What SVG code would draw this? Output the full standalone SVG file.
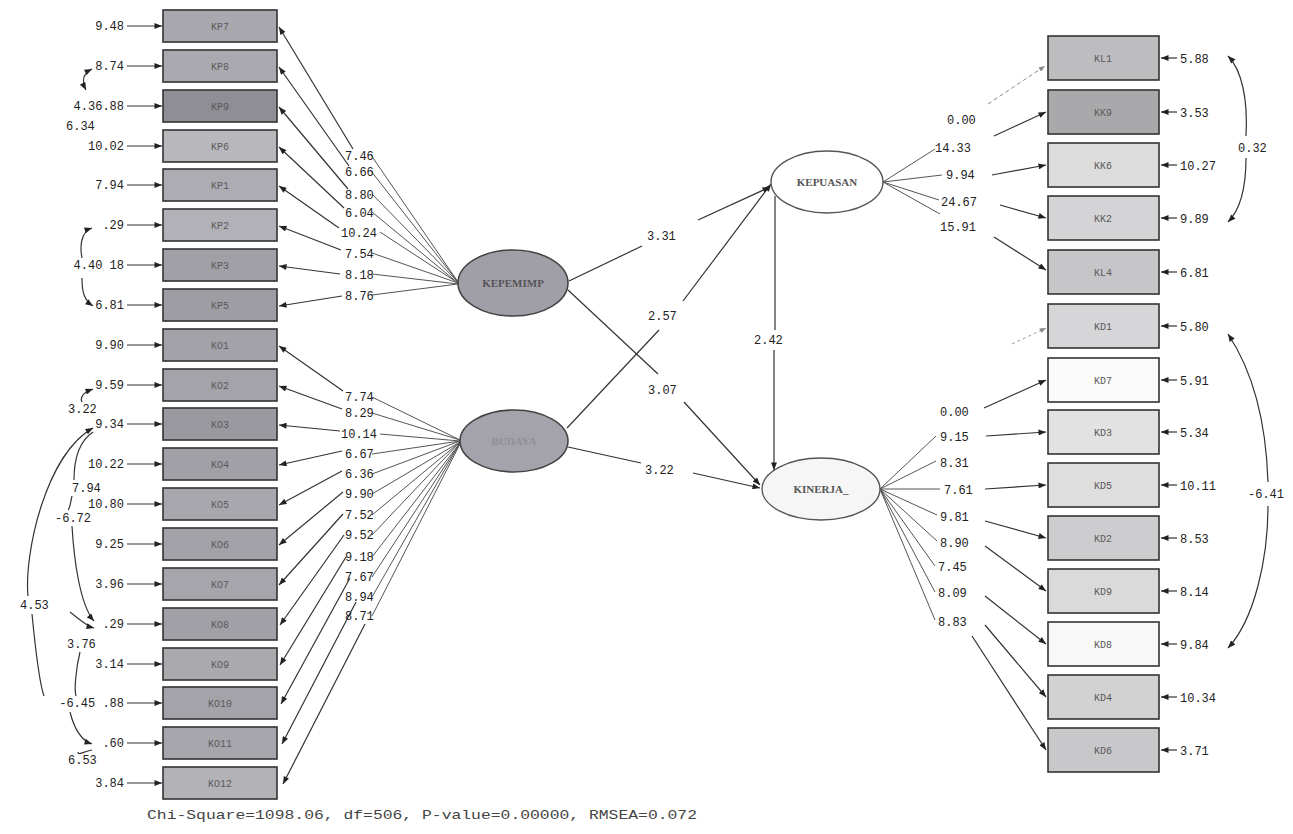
<svg xmlns="http://www.w3.org/2000/svg" width="1293" height="834" viewBox="0 0 1293 834">
<defs>
<marker id="ah" viewBox="0 0 10 8" refX="10" refY="4" markerWidth="9" markerHeight="6" markerUnits="userSpaceOnUse" orient="auto-start-reverse"><path d="M0,0 L10,4 L0,8 z" fill="#222"/></marker>
<marker id="ahf" viewBox="0 0 10 8" refX="10" refY="4" markerWidth="8" markerHeight="5" markerUnits="userSpaceOnUse" orient="auto"><path d="M0,0 L10,4 L0,8 z" fill="#888"/></marker>
</defs>
<style>
.t{font-family:"Liberation Mono","DejaVu Sans Mono",monospace;font-size:12px;fill:#222}
.e{text-anchor:end}
.bl{font-family:"Liberation Mono",monospace;font-size:10px;fill:#5a5a5a;text-anchor:middle;stroke:none}
.el{font-family:"Liberation Serif",serif;font-size:11px;font-weight:bold;fill:#555;text-anchor:middle}
.bx rect{stroke:#333;stroke-width:1.6}
.ln{stroke:#333;stroke-width:1.2;fill:none}
.lt{stroke:#555;stroke-width:1;fill:none}
.ar{marker-end:url(#ah)}
.cv{stroke:#333;stroke-width:1.1;fill:none;marker-start:url(#ah);marker-end:url(#ah)}
</style>
<rect width="1293" height="834" fill="#fff"/>

<g id="connectors">
<g class="ln ar">
<line x1="127" y1="26" x2="162" y2="26"/><line x1="127" y1="66" x2="162" y2="66"/><line x1="127" y1="106" x2="162" y2="106"/><line x1="127" y1="146" x2="162" y2="146"/><line x1="127" y1="185" x2="162" y2="185"/><line x1="127" y1="225" x2="162" y2="225"/><line x1="127" y1="265" x2="162" y2="265"/><line x1="127" y1="305" x2="162" y2="305"/><line x1="127" y1="345" x2="162" y2="345"/><line x1="127" y1="385" x2="162" y2="385"/><line x1="127" y1="424" x2="162" y2="424"/><line x1="127" y1="464" x2="162" y2="464"/><line x1="127" y1="504" x2="162" y2="504"/><line x1="127" y1="544" x2="162" y2="544"/><line x1="127" y1="584" x2="162" y2="584"/><line x1="127" y1="624" x2="162" y2="624"/><line x1="127" y1="664" x2="162" y2="664"/><line x1="127" y1="703" x2="162" y2="703"/><line x1="127" y1="743" x2="162" y2="743"/><line x1="127" y1="783" x2="162" y2="783"/>
</g>
<path class="cv" d="M92 69 C82 74 82 82 86 90"/>
<path class="ln" d="M92 228 C80 232 80 248 82 258" marker-start="url(#ah)"/>
<path class="ln" d="M82 278 C82 292 84 300 93 306" marker-end="url(#ah)"/>
<path class="ln" d="M93 389 C82 393 80 398 82 402" marker-start="url(#ah)"/>
<path class="ln" d="M93 428 C45 455 24 555 28 596" marker-start="url(#ah)"/>
<path class="ln" d="M32 614 C36 655 40 685 44 696"/>
<path class="ln" d="M70 712 C74 728 80 740 92 744" marker-end="url(#ah)"/>
<path class="ln" d="M93 432 C78 442 74 460 74 480"/>
<path class="ln" d="M72 496 C70 505 70 508 68 510"/>
<path class="ln" d="M72 526 C74 560 80 605 94 621" marker-end="url(#ah)"/>
<path class="ln" d="M70 612 C78 618 86 626 94 628" marker-end="url(#ah)"/>
<path class="ln" d="M80 652 C76 668 74 690 76 696"/>
<path class="ln" d="M92 750 C82 752 78 756 78 752"/>
<g class="ln ar">
<line x1="353" y1="149" x2="279" y2="27"/><line x1="349" y1="166" x2="279" y2="67"/><line x1="348" y1="189" x2="279" y2="107"/><line x1="344" y1="208" x2="279" y2="147"/><line x1="339" y1="228" x2="279" y2="186"/><line x1="341" y1="250" x2="279" y2="226"/><line x1="340" y1="274" x2="279" y2="266"/><line x1="342" y1="296" x2="279" y2="306"/>
</g>
<g class="lt">
<line x1="371" y1="155" x2="458" y2="282"/><line x1="371" y1="171" x2="458" y2="282"/><line x1="372" y1="194" x2="458" y2="282"/><line x1="372" y1="212" x2="458" y2="283"/><line x1="380" y1="232" x2="458" y2="283"/><line x1="372" y1="253" x2="458" y2="283"/><line x1="372" y1="274" x2="458" y2="284"/><line x1="372" y1="295" x2="458" y2="284"/>
</g>
<g class="ln ar">
<line x1="343" y1="391" x2="279" y2="346"/><line x1="342" y1="409" x2="279" y2="386"/><line x1="340" y1="431" x2="279" y2="425"/><line x1="342" y1="451" x2="279" y2="465"/><line x1="342" y1="471" x2="279" y2="505"/><line x1="343" y1="492" x2="279" y2="545"/><line x1="343" y1="514" x2="279" y2="585"/><line x1="344" y1="535" x2="280" y2="625"/><line x1="346" y1="557" x2="280" y2="665"/><line x1="350" y1="578" x2="281" y2="704"/><line x1="356" y1="602" x2="282" y2="744"/><line x1="365" y1="624" x2="283" y2="784"/>
</g>
<g class="lt">
<line x1="372" y1="397" x2="460" y2="440"/><line x1="372" y1="413" x2="460" y2="440"/><line x1="380" y1="434" x2="460" y2="441"/><line x1="372" y1="454" x2="460" y2="441"/><line x1="372" y1="474" x2="460" y2="441"/><line x1="372" y1="494" x2="460" y2="442"/><line x1="372" y1="515" x2="460" y2="442"/><line x1="372" y1="535" x2="460" y2="442"/><line x1="372" y1="557" x2="460" y2="443"/><line x1="372" y1="577" x2="460" y2="443"/><line x1="372" y1="597" x2="460" y2="443"/><line x1="372" y1="616" x2="460" y2="444"/>
</g>
<line class="ln" x1="569" y1="281" x2="642" y2="246"/>
<line class="ln ar" x1="698" y1="220" x2="770" y2="187"/>
<line class="ln" x1="567" y1="428" x2="659" y2="330"/>
<line class="ln ar" x1="683" y1="301" x2="771" y2="184"/>
<line class="ln" x1="568" y1="290" x2="658" y2="374"/>
<line class="ln ar" x1="684" y1="402" x2="760" y2="485"/>
<line class="ln" x1="568" y1="447" x2="641" y2="463"/>
<line class="ln ar" x1="693" y1="473" x2="760" y2="488"/>
<line class="ln" x1="775" y1="196" x2="775" y2="330"/>
<line class="ln ar" x1="774" y1="350" x2="774" y2="470"/>
<g class="lt">
<line x1="883" y1="182" x2="935" y2="149"/><line x1="883" y1="182" x2="942" y2="175"/><line x1="883" y1="182" x2="939" y2="200"/><line x1="883" y1="182" x2="940" y2="214"/>
</g>
<line x1="988" y1="104" x2="1045" y2="66" stroke="#888" stroke-width="1" stroke-dasharray="4,3" marker-end="url(#ahf)"/>
<g class="ln ar">
<line x1="994" y1="136" x2="1046" y2="112"/><line x1="992" y1="175" x2="1046" y2="165"/><line x1="1000" y1="205" x2="1046" y2="218"/><line x1="994" y1="237" x2="1046" y2="270"/>
</g>
<g class="lt">
<line x1="880" y1="489" x2="936" y2="436"/><line x1="880" y1="489" x2="936" y2="461"/><line x1="880" y1="489" x2="940" y2="489"/><line x1="880" y1="489" x2="937" y2="515"/><line x1="880" y1="489" x2="937" y2="541"/><line x1="880" y1="489" x2="935" y2="566"/><line x1="880" y1="489" x2="935" y2="592"/><line x1="880" y1="489" x2="935" y2="620"/>
</g>
<line x1="1012" y1="344" x2="1046" y2="328" stroke="#999" stroke-width="1" stroke-dasharray="3,3" marker-end="url(#ahf)"/>
<g class="ln ar">
<line x1="984" y1="408" x2="1046" y2="380"/><line x1="986" y1="436" x2="1046" y2="432"/><line x1="985" y1="489" x2="1046" y2="485"/><line x1="985" y1="521" x2="1046" y2="538"/><line x1="985" y1="546" x2="1046" y2="591"/><line x1="985" y1="596" x2="1046" y2="644"/><line x1="985" y1="625" x2="1046" y2="697"/><line x1="972" y1="636" x2="1046" y2="750"/>
</g>
<g class="ln ar">
<line x1="1177" y1="58" x2="1161" y2="58"/><line x1="1177" y1="112" x2="1161" y2="112"/><line x1="1177" y1="165" x2="1161" y2="165"/><line x1="1177" y1="218" x2="1161" y2="218"/><line x1="1177" y1="272" x2="1161" y2="272"/><line x1="1177" y1="326" x2="1161" y2="326"/><line x1="1177" y1="380" x2="1161" y2="380"/><line x1="1177" y1="432" x2="1161" y2="432"/><line x1="1177" y1="485" x2="1161" y2="485"/><line x1="1177" y1="538" x2="1161" y2="538"/><line x1="1177" y1="591" x2="1161" y2="591"/><line x1="1177" y1="644" x2="1161" y2="644"/><line x1="1177" y1="697" x2="1161" y2="697"/><line x1="1177" y1="750" x2="1161" y2="750"/>
</g>
<path class="ln" d="M1228 56 C1242 70 1248 100 1246 136" marker-start="url(#ah)"/>
<path class="ln" d="M1246 158 C1246 190 1240 210 1228 222" marker-end="url(#ah)"/>
<path class="ln" d="M1228 334 C1252 370 1266 420 1268 482" marker-start="url(#ah)"/>
<path class="ln" d="M1268 506 C1268 560 1254 620 1228 648" marker-end="url(#ah)"/>
</g>

<g id="labels-left">
<text class="t e" x="124" y="30">9.48</text>
<text class="t e" x="124" y="70">8.74</text>
<text class="t e" x="124" y="110">4.36.88</text>
<text class="t" x="66" y="130">6.34</text>
<text class="t e" x="124" y="150">10.02</text>
<text class="t e" x="124" y="189">7.94</text>
<text class="t e" x="124" y="229">.29</text>
<text class="t e" x="124" y="269">4.40 18</text>
<text class="t e" x="124" y="309">6.81</text>
<text class="t e" x="124" y="349">9.90</text>
<text class="t e" x="124" y="389">9.59</text>
<text class="t" x="68" y="413">3.22</text>
<text class="t e" x="124" y="428">9.34</text>
<text class="t e" x="124" y="468">10.22</text>
<text class="t" x="72" y="492">7.94</text>
<text class="t e" x="124" y="508">10.80</text>
<text class="t" x="55" y="522">-6.72</text>
<text class="t e" x="124" y="548">9.25</text>
<text class="t e" x="124" y="588">3.96</text>
<text class="t" x="20" y="609">4.53</text>
<text class="t e" x="124" y="628">.29</text>
<text class="t" x="67" y="648">3.76</text>
<text class="t e" x="124" y="668">3.14</text>
<text class="t e" x="124" y="707">-6.45 .88</text>
<text class="t e" x="124" y="747">.60</text>
<text class="t" x="68" y="764">6.53</text>
<text class="t e" x="124" y="787">3.84</text>

<text class="t" x="345" y="160">7.46</text>
<text class="t" x="345" y="176">6.66</text>
<text class="t" x="345" y="199">8.80</text>
<text class="t" x="345" y="217">6.04</text>
<text class="t" x="341" y="237">10.24</text>
<text class="t" x="345" y="258">7.54</text>
<text class="t" x="345" y="279">8.18</text>
<text class="t" x="345" y="300">8.76</text>

<text class="t" x="345" y="401">7.74</text>
<text class="t" x="345" y="417">8.29</text>
<text class="t" x="341" y="438">10.14</text>
<text class="t" x="345" y="458">6.67</text>
<text class="t" x="345" y="478">6.36</text>
<text class="t" x="345" y="498">9.90</text>
<text class="t" x="345" y="519">7.52</text>
<text class="t" x="345" y="539">9.52</text>
<text class="t" x="345" y="561">9.18</text>
<text class="t" x="345" y="581">7.67</text>
<text class="t" x="345" y="601">8.94</text>
<text class="t" x="345" y="620">8.71</text>
</g>

<g id="labels-mid">
<text class="t" x="647" y="240">3.31</text>
<text class="t" x="648" y="320">2.57</text>
<text class="t" x="648" y="394">3.07</text>
<text class="t" x="645" y="474">3.22</text>
<text class="t" x="754" y="344">2.42</text>
</g>

<g id="labels-right">
<text class="t" x="947" y="124">0.00</text>
<text class="t" x="935" y="152">14.33</text>
<text class="t" x="946" y="179">9.94</text>
<text class="t" x="941" y="206">24.67</text>
<text class="t" x="940" y="231">15.91</text>

<text class="t" x="940" y="416">0.00</text>
<text class="t" x="940" y="441">9.15</text>
<text class="t" x="940" y="467">8.31</text>
<text class="t" x="944" y="494">7.61</text>
<text class="t" x="940" y="521">9.81</text>
<text class="t" x="940" y="547">8.90</text>
<text class="t" x="938" y="571">7.45</text>
<text class="t" x="938" y="597">8.09</text>
<text class="t" x="938" y="626">8.83</text>

<text class="t" x="1180" y="63">5.88</text>
<text class="t" x="1180" y="117">3.53</text>
<text class="t" x="1180" y="170">10.27</text>
<text class="t" x="1180" y="223">9.89</text>
<text class="t" x="1180" y="277">6.81</text>
<text class="t" x="1180" y="331">5.80</text>
<text class="t" x="1180" y="385">5.91</text>
<text class="t" x="1180" y="437">5.34</text>
<text class="t" x="1180" y="490">10.11</text>
<text class="t" x="1180" y="543">8.53</text>
<text class="t" x="1180" y="596">8.14</text>
<text class="t" x="1180" y="649">9.84</text>
<text class="t" x="1180" y="702">10.34</text>
<text class="t" x="1180" y="755">3.71</text>
<text class="t" x="1238" y="152">0.32</text>
<text class="t" x="1248" y="498">-6.41</text>
</g>

<g id="left-boxes" class="bx">
<g id="x1"><rect x="163" y="10" width="114" height="32" fill="#a9a8ae"/><text class="bl" x="220" y="30">KP7</text></g>
<g id="x2"><rect x="163" y="50" width="114" height="32" fill="#aaa9b0"/><text class="bl" x="220" y="70">KP8</text></g>
<g id="x3"><rect x="163" y="90" width="114" height="32" fill="#8f8e95"/><text class="bl" x="220" y="110">KP9</text></g>
<g id="x4"><rect x="163" y="130" width="114" height="32" fill="#b8b7bc"/><text class="bl" x="220" y="150">KP6</text></g>
<g id="x5"><rect x="163" y="169" width="114" height="32" fill="#adacb2"/><text class="bl" x="220" y="189">KP1</text></g>
<g id="x6"><rect x="163" y="209" width="114" height="32" fill="#b2b1b7"/><text class="bl" x="220" y="229">KP2</text></g>
<g id="x7"><rect x="163" y="249" width="114" height="32" fill="#a0a0a6"/><text class="bl" x="220" y="269">KP3</text></g>
<g id="x8"><rect x="163" y="289" width="114" height="32" fill="#9e9da4"/><text class="bl" x="220" y="309">KP5</text></g>
<g id="x9"><rect x="163" y="329" width="114" height="32" fill="#a3a2a9"/><text class="bl" x="220" y="349">KO1</text></g>
<g id="x10"><rect x="163" y="369" width="114" height="32" fill="#a4a3aa"/><text class="bl" x="220" y="389">KO2</text></g>
<g id="x11"><rect x="163" y="408" width="114" height="32" fill="#9a99a0"/><text class="bl" x="220" y="428">KO3</text></g>
<g id="x12"><rect x="163" y="448" width="114" height="32" fill="#a1a0a7"/><text class="bl" x="220" y="468">KO4</text></g>
<g id="x13"><rect x="163" y="488" width="114" height="32" fill="#a8a7ad"/><text class="bl" x="220" y="508">KO5</text></g>
<g id="x14"><rect x="163" y="528" width="114" height="32" fill="#a3a2a9"/><text class="bl" x="220" y="548">KO6</text></g>
<g id="x15"><rect x="163" y="568" width="114" height="32" fill="#a6a5ab"/><text class="bl" x="220" y="588">KO7</text></g>
<g id="x16"><rect x="163" y="608" width="114" height="32" fill="#a1a0a6"/><text class="bl" x="220" y="628">KO8</text></g>
<g id="x17"><rect x="163" y="648" width="114" height="32" fill="#aaa9ae"/><text class="bl" x="220" y="668">KO9</text></g>
<g id="x18"><rect x="163" y="687" width="114" height="32" fill="#a4a3a9"/><text class="bl" x="220" y="707">KO10</text></g>
<g id="x19"><rect x="163" y="727" width="114" height="32" fill="#a7a6ac"/><text class="bl" x="220" y="747">KO11</text></g>
<g id="x20"><rect x="163" y="767" width="114" height="32" fill="#b3b2b6"/><text class="bl" x="220" y="787">KO12</text></g>
</g>

<g id="right-boxes" class="bx">
<g id="y1"><rect x="1048" y="36" width="111" height="44" fill="#bdbdc0"/><text class="bl" x="1103" y="62">KL1</text></g>
<g id="y2"><rect x="1048" y="90" width="111" height="44" fill="#a9a9ac"/><text class="bl" x="1103" y="116">KK9</text></g>
<g id="y3"><rect x="1048" y="143" width="111" height="44" fill="#dcdcdc"/><text class="bl" x="1103" y="169">KK6</text></g>
<g id="y4"><rect x="1048" y="196" width="111" height="44" fill="#d4d4d6"/><text class="bl" x="1103" y="222">KK2</text></g>
<g id="y5"><rect x="1048" y="250" width="111" height="44" fill="#c6c6c8"/><text class="bl" x="1103" y="276">KL4</text></g>
<g id="y6"><rect x="1048" y="304" width="111" height="44" fill="#d6d6d8"/><text class="bl" x="1103" y="330">KD1</text></g>
<g id="y7"><rect x="1048" y="358" width="111" height="44" fill="#fbfbfb"/><text class="bl" x="1103" y="384">KD7</text></g>
<g id="y8"><rect x="1048" y="410" width="111" height="44" fill="#e2e2e2"/><text class="bl" x="1103" y="436">KD3</text></g>
<g id="y9"><rect x="1048" y="463" width="111" height="44" fill="#dedede"/><text class="bl" x="1103" y="489">KD5</text></g>
<g id="y10"><rect x="1048" y="516" width="111" height="44" fill="#cdcdcf"/><text class="bl" x="1103" y="542">KD2</text></g>
<g id="y11"><rect x="1048" y="569" width="111" height="44" fill="#dadada"/><text class="bl" x="1103" y="595">KD9</text></g>
<g id="y12"><rect x="1048" y="622" width="111" height="44" fill="#f8f8f8"/><text class="bl" x="1103" y="648">KD8</text></g>
<g id="y13"><rect x="1048" y="675" width="111" height="44" fill="#d2d2d3"/><text class="bl" x="1103" y="701">KD4</text></g>
<g id="y14"><rect x="1048" y="728" width="111" height="44" fill="#c8c8ca"/><text class="bl" x="1103" y="754">KD6</text></g>
</g>

<g id="latent">
<g id="kepemimp"><ellipse cx="513" cy="283" rx="55" ry="33" fill="#a09fa8" stroke="#444" stroke-width="1.6"/><text class="el" x="513" y="287">KEPEMIMP</text></g>
<g id="budaya"><ellipse cx="514" cy="441" rx="54" ry="31" fill="#a4a3ab" stroke="#444" stroke-width="1.6"/><text class="el" x="514" y="445" style="fill:#8f8e96">BUDAYA</text></g>
<g id="kepuasan"><ellipse cx="827" cy="182" rx="56" ry="31" fill="#fff" stroke="#555" stroke-width="1.4"/><text class="el" x="827" y="186">KEPUASAN</text></g>
<g id="kinerja"><ellipse cx="821" cy="489" rx="59" ry="31" fill="#f6f6f6" stroke="#555" stroke-width="1.4"/><text class="el" x="821" y="493">KINERJA_</text></g>
</g>

<text x="147" y="819" textLength="550" lengthAdjust="spacingAndGlyphs" style="font-family:'Liberation Mono',monospace;font-size:13px;fill:#444">Chi-Square=1098.06, df=506, P-value=0.00000, RMSEA=0.072</text>
</svg>
